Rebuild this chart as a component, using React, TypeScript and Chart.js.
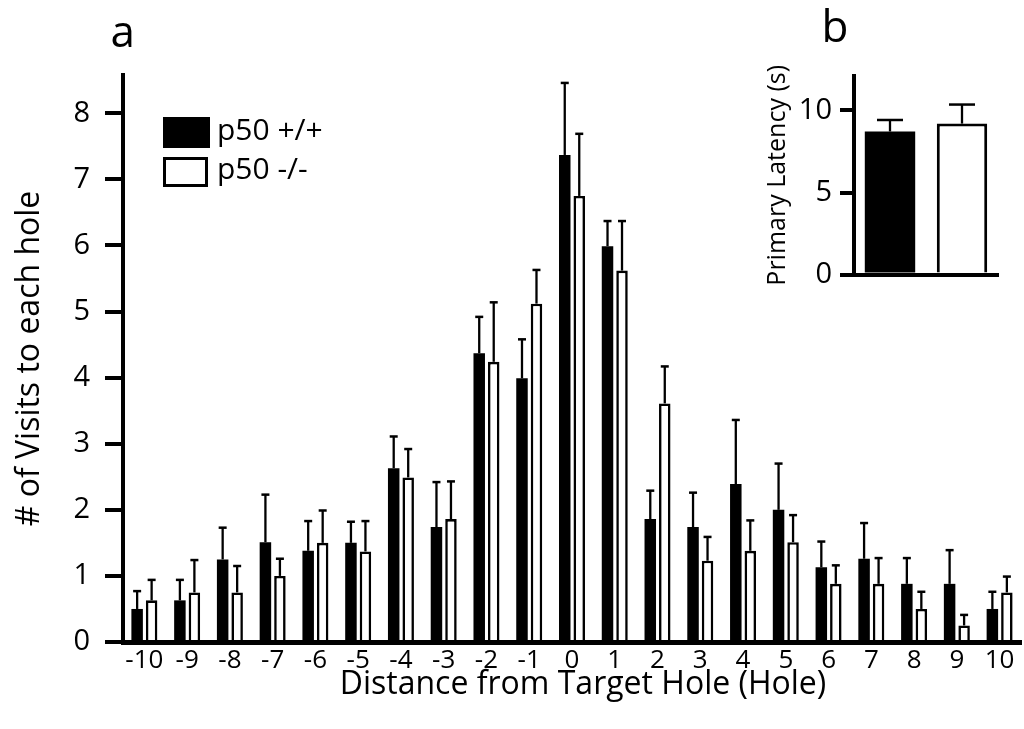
import React, { useEffect, useRef } from "react";
import { Chart, registerables } from "chart.js";

Chart.register(...registerables);

const FONT = "'Open Sans', 'Noto Sans', sans-serif";

// ---- Panel a data ----
const holes = ["-10", "-9", "-8", "-7", "-6", "-5", "-4", "-3", "-2", "-1", "0", "1", "2", "3", "4", "5", "6", "7", "8", "9", "10"];
const wtLabel = "p50 +/+";
const koLabel = "p50 -/-";
const wtVisits = [0.50, 0.63, 1.25, 1.51, 1.38, 1.50, 2.63, 1.74, 4.37, 3.99, 7.37, 5.99, 1.86, 1.74, 2.39, 2.00, 1.13, 1.26, 0.88, 0.88, 0.50];
const wtVisitsErr = [0.27, 0.31, 0.48, 0.72, 0.45, 0.32, 0.48, 0.68, 0.55, 0.59, 1.09, 0.38, 0.43, 0.52, 0.97, 0.70, 0.39, 0.54, 0.39, 0.51, 0.26];
const koVisits = [0.63, 0.75, 0.75, 1.00, 1.50, 1.37, 2.49, 1.86, 4.24, 5.12, 6.75, 5.62, 3.61, 1.23, 1.38, 1.51, 0.88, 0.88, 0.50, 0.25, 0.75];
const koVisitsErr = [0.31, 0.49, 0.40, 0.26, 0.49, 0.46, 0.43, 0.57, 0.90, 0.51, 0.94, 0.75, 0.56, 0.36, 0.46, 0.41, 0.28, 0.39, 0.26, 0.16, 0.24];
const xTitleText = "Distance from Target Hole (Hole)";

// ---- Panel b data ----
const genotypes = ["p50 +/+", "p50 -/-"];
const latency = [8.72, 9.20];
const latencyErr = [0.70, 1.16];

const errorBarPlugin = {
  id: "errorBars",
  afterDatasetsDraw(chart: any, _args: any, opts: any) {
    const ctx = chart.ctx;
    const yScale = chart.scales.y;
    chart.data.datasets.forEach((ds: any, di: number) => {
      if (!ds.errors) return;
      const meta = chart.getDatasetMeta(di);
      meta.data.forEach((bar: any, i: number) => {
        const v = ds.data[i] as number;
        const e = ds.errors[i] as number;
        const yTop = yScale.getPixelForValue(v + e);
        ctx.save();
        ctx.strokeStyle = "#000";
        ctx.lineWidth = opts.lineWidth || 2.5;
        ctx.beginPath();
        ctx.moveTo(bar.x, bar.y);
        ctx.lineTo(bar.x, yTop);
        ctx.stroke();
        ctx.lineWidth = opts.capLine || 2.5;
        ctx.beginPath();
        ctx.moveTo(bar.x - (opts.capHalf || 4), yTop);
        ctx.lineTo(bar.x + (opts.capHalf || 4), yTop);
        ctx.stroke();
        ctx.restore();
      });
    });
  },
};

const boxLegendPlugin = {
  id: "boxLegend",
  afterDraw(chart: any) {
    const ctx = chart.ctx;
    const ds = chart.data.datasets;
    ctx.save();
    ctx.fillStyle = "#000";
    ctx.fillRect(163, 117, 47, 31);
    ctx.strokeStyle = "#000";
    ctx.lineWidth = 3;
    ctx.strokeRect(164.5, 158.5, 42, 27);
    ctx.fillStyle = "#000";
    ctx.font = `30px ${FONT}`;
    ctx.textBaseline = "alphabetic";
    ctx.textAlign = "left";
    ctx.fillText(ds[0].label, 217, 140);
    ctx.fillText(ds[1].label, 217, 179);
    ctx.restore();
  },
};

const xTitlePlugin = {
  id: "xTitle",
  afterDraw(chart: any) {
    const ctx = chart.ctx;
    const area = chart.chartArea;
    ctx.save();
    ctx.fillStyle = "#000";
    ctx.font = `32px ${FONT}`;
    ctx.textAlign = "center";
    ctx.textBaseline = "middle";
    ctx.fillText(xTitleText, (area.left + area.right) / 2 + 11, 685);
    ctx.restore();
  },
};

function MainChart() {
  const ref = useRef<HTMLCanvasElement | null>(null);
  useEffect(() => {
    if (!ref.current) return;
    const chart = new Chart(ref.current, {
      type: "bar",
      data: {
        labels: holes,
        datasets: [
          {
            label: wtLabel,
            data: wtVisits,
            errors: wtVisitsErr,
            backgroundColor: "#000",
            borderColor: "#000",
            borderWidth: 0,
            categoryPercentage: 0.678,
            barPercentage: 0.793,
          } as any,
          {
            label: koLabel,
            data: koVisits,
            errors: koVisitsErr,
            backgroundColor: "#fff",
            borderColor: "#000",
            borderWidth: 2.6,
            categoryPercentage: 0.678,
            barPercentage: 0.793,
          } as any,
        ],
      },
      options: {
        animation: false,
        responsive: false,
        maintainAspectRatio: false,
        layout: { padding: { left: 0, right: 3, top: 75, bottom: 0 } },
        plugins: {
          legend: { display: false },
          tooltip: { enabled: false },
          errorBars: { lineWidth: 2.3, capLine: 2.5, capHalf: 4 },
        } as any,
        scales: {
          x: {
            grid: { display: false, drawTicks: false },
            border: { display: true, color: "#000", width: 5 },
            ticks: {
              color: "#000",
              font: { family: FONT, size: 26 },
              padding: 3,
              maxRotation: 0,
              autoSkip: false,
            },
            title: { display: false, text: xTitleText },
            afterFit: (s: any) => {
              s.height = 87;
            },
          },
          y: {
            min: 0,
            max: 8.58,
            grid: {
              display: true,
              drawOnChartArea: false,
              drawTicks: true,
              tickLength: 18,
              lineWidth: 4,
              tickWidth: 4,
              color: "#000",
              tickColor: "#000",
            },
            border: { display: true, color: "#000", width: 4 },
            ticks: {
              stepSize: 1,
              includeBounds: false,
              color: "#000",
              font: { family: FONT, size: 29 },
              padding: 15,
            },
            title: {
              display: true,
              text: "# of Visits to each hole",
              color: "#000",
              font: { family: FONT, size: 32 },
              padding: { top: 11, bottom: 0 },
            },
            afterFit: (s: any) => {
              s.width = 123;
            },
          },
        },
      },
      plugins: [errorBarPlugin, boxLegendPlugin, xTitlePlugin],
    } as any);
    return () => chart.destroy();
  }, []);
  return (
    <canvas
      ref={ref}
      width={1024}
      height={729}
      style={{ position: "absolute", left: 0, top: 0, width: 1024, height: 729 }}
    />
  );
}

function InsetChart() {
  const ref = useRef<HTMLCanvasElement | null>(null);
  useEffect(() => {
    if (!ref.current) return;
    const chart = new Chart(ref.current, {
      type: "bar",
      data: {
        labels: genotypes,
        datasets: [
          {
            label: "Primary Latency",
            data: latency,
            errors: latencyErr,
            backgroundColor: ["#000", "#fff"],
            borderColor: "#000",
            borderWidth: [0, 3],
            categoryPercentage: 1.0,
            barPercentage: 0.7,
          } as any,
        ],
      },
      options: {
        animation: false,
        responsive: false,
        maintainAspectRatio: false,
        layout: { padding: { left: 0, right: 26, top: 76, bottom: 0 } },
        plugins: {
          legend: { display: false },
          tooltip: { enabled: false },
          errorBars: { lineWidth: 2.3, capLine: 2.5, capHalf: 13 },
        } as any,
        scales: {
          x: {
            grid: { display: false, drawTicks: false },
            border: { display: true, color: "#000", width: 4 },
            ticks: { display: false },
            afterFit: (s: any) => {
              s.height = 22;
            },
          },
          y: {
            min: 0,
            max: 12.1,
            grid: {
              display: true,
              drawOnChartArea: false,
              drawTicks: true,
              tickLength: 14,
              lineWidth: 4,
              tickWidth: 4,
              color: "#000",
              tickColor: "#000",
            },
            border: { display: true, color: "#000", width: 4 },
            ticks: {
              stepSize: 5,
              includeBounds: false,
              color: "#000",
              font: { family: FONT, size: 29 },
              padding: 8,
            },
            title: {
              display: true,
              text: "Primary Latency (s)",
              color: "#000",
              font: { family: FONT, size: 25 },
              padding: { top: 23, bottom: 0 },
            },
            afterFit: (s: any) => {
              s.width = 114;
            },
          },
        },
      },
      plugins: [errorBarPlugin],
    } as any);
    return () => chart.destroy();
  }, []);
  return (
    <canvas
      ref={ref}
      width={284}
      height={300}
      style={{ position: "absolute", left: 740, top: 0, width: 284, height: 300 }}
    />
  );
}

export default function App() {
  const panelLabel: React.CSSProperties = {
    position: "absolute",
    fontFamily: FONT,
    fontSize: 44,
    lineHeight: "44px",
    color: "#000",
    margin: 0,
  };
  return (
    <div
      style={{
        position: "absolute",
        left: 0,
        top: 0,
        width: 1024,
        height: 729,
        background: "#fff",
        overflow: "hidden",
      }}
    >
      <MainChart />
      <InsetChart />
      <div style={{ ...panelLabel, left: 110.5, top: 8.3 }}>a</div>
      <div style={{ ...panelLabel, left: 821.5, top: 3.3 }}>b</div>
    </div>
  );
}
